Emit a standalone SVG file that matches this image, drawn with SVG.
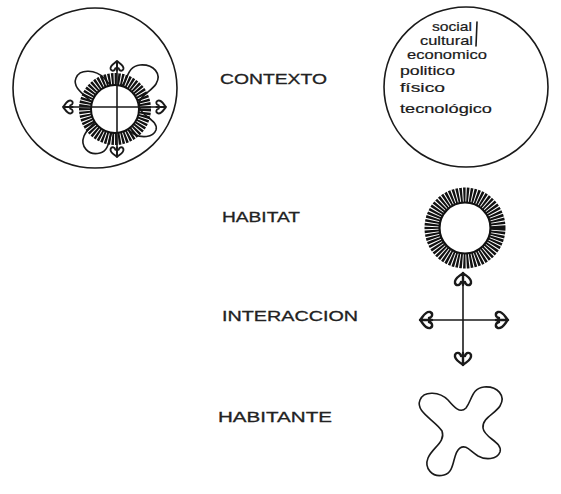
<svg xmlns="http://www.w3.org/2000/svg" xmlns:xlink="http://www.w3.org/1999/xlink" width="561" height="494" viewBox="0 0 561 494">
<defs>
<style>
.ln{fill:none;stroke:#1a1a1a;stroke-width:1.6;stroke-linecap:round;stroke-linejoin:round}
.hd{fill:none;stroke:#1a1a1a;stroke-width:2.4;stroke-linecap:round;stroke-linejoin:round}
.teeth{fill:none;stroke:#111;stroke-dasharray:2.2 1}
.lab{font-family:"Liberation Sans",Arial,sans-serif;font-size:15px;fill:#222;stroke:#222;stroke-width:0.3}
.hw{font-family:"Liberation Sans",Arial,sans-serif;font-size:13px;fill:#1a1a1a;stroke:#1a1a1a;stroke-width:0.2}
</style>
<path id="head" class="hd" d="M0,0 C-3,3 -9,5 -8,10 C-7,13 -3,13 -2,9 M0,0 C3,3 9,5 8,10 C7,13 3,13 2,9 M0,0 V12"/>
<path id="blob" class="ln" d="M442,431 C435,420 415,412 420,400 C424,390 440,392 448,400 C454,407 460,414 466,408 C472,400 472,388 484,387 C498,386 506,396 500,406 C495,414 482,418 483,428 C484,438 503,442 500,452 C497,460 485,460 478,456 C470,451 466,444 460,448 C452,453 456,472 444,475 C432,478 424,468 428,458 C432,448 446,442 442,431 Z"/>
</defs>
<rect width="561" height="494" fill="#fff"/>

<g id="contexto-compuesto">
<ellipse class="ln" cx="95" cy="88" rx="82" ry="80"/>
<use xlink:href="#blob" transform="translate(-344,-322)"/>
<circle class="teeth" cx="115" cy="109" r="30" stroke-width="12"/>
<circle cx="115" cy="109" r="24" fill="#fff" stroke="#111" stroke-width="2"/>
<line class="ln" x1="117" y1="62" x2="117" y2="156"/>
<line class="ln" x1="64" y1="107" x2="165" y2="107"/>
<use xlink:href="#head" transform="translate(117,61) scale(0.8)"/>
<use xlink:href="#head" transform="translate(117,157) rotate(180) scale(0.8)"/>
<use xlink:href="#head" transform="translate(63,107) rotate(-90) scale(0.8)"/>
<use xlink:href="#head" transform="translate(166,107) rotate(90) scale(0.8)"/>
</g>

<g id="contexto-label"><text class="lab" x="220" y="84" textLength="107" lengthAdjust="spacingAndGlyphs">CONTEXTO</text></g>

<g id="contexto">
<ellipse class="ln" cx="466" cy="87" rx="82" ry="80"/>
<text class="hw" x="432" y="31" font-size="11" textLength="40" lengthAdjust="spacingAndGlyphs">social</text>
<line class="ln" x1="477" y1="22" x2="476" y2="46"/>
<text class="hw" x="420" y="45" font-size="11" textLength="53" lengthAdjust="spacingAndGlyphs">cultural</text>
<text class="hw" x="407" y="59" font-size="11" textLength="80" lengthAdjust="spacingAndGlyphs">economico</text>
<text class="hw" x="400" y="75" textLength="55" lengthAdjust="spacingAndGlyphs">politico</text>
<text class="hw" x="400" y="92" textLength="45" lengthAdjust="spacingAndGlyphs">físico</text>
<text class="hw" x="400" y="113" textLength="92" lengthAdjust="spacingAndGlyphs">tecnológico</text>
</g>

<g id="habitat-label"><text class="lab" x="222" y="222" textLength="78" lengthAdjust="spacingAndGlyphs">HABITAT</text></g>
<g id="habitat">
<circle class="teeth" cx="465" cy="228" r="33" stroke-width="15"/>
<circle cx="465" cy="228" r="25.5" fill="#fff" stroke="#111" stroke-width="2.2"/>
</g>

<g id="interaccion-label"><text class="lab" x="222" y="321" textLength="136" lengthAdjust="spacingAndGlyphs">INTERACCION</text></g>
<g id="interaccion">
<line class="ln" x1="463" y1="274" x2="463" y2="364"/>
<line class="ln" x1="421" y1="320" x2="507" y2="320"/>
<use xlink:href="#head" transform="translate(463,273)"/>
<use xlink:href="#head" transform="translate(463,365) rotate(180)"/>
<use xlink:href="#head" transform="translate(420,320) rotate(-90)"/>
<use xlink:href="#head" transform="translate(508,320) rotate(90)"/>
</g>

<g id="habitante-label"><text class="lab" x="218" y="422" textLength="114" lengthAdjust="spacingAndGlyphs">HABITANTE</text></g>
<g id="habitante"><use xlink:href="#blob"/></g>
</svg>
